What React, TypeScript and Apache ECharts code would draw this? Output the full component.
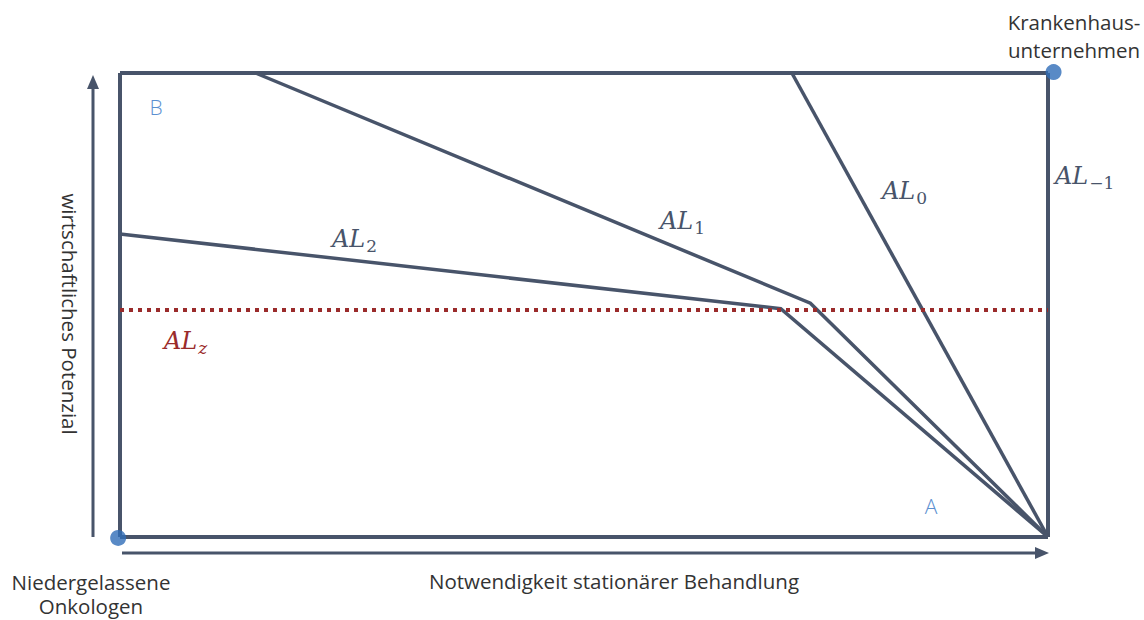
import React, { useEffect, useRef } from "react";
import * as echarts from "echarts";

// Coordinates in a 0..100 diagram space (x: Notwendigkeit, y: Potenzial)
const frameTop: [number, number][] = [[0, 100], [100, 100]];
const frameLeft: [number, number][] = [[0, 0], [0, 100]];
const frameBottom: [number, number][] = [[0, 0], [100, 0]];
const alMinus1: [number, number][] = [[100, 100], [100, 0]];
const al0: [number, number][] = [[72.4, 100], [100, 0]];
const al1: [number, number][] = [[14.6, 100], [74.4, 50.4], [100, 0]];
const al2: [number, number][] = [[0, 65.3], [71.2, 49.2], [100, 0]];
const alZ: [number, number][] = [[0, 48.9], [100, 48.9]];
const actors: [number, number][] = [[-0.2, -0.2], [100.6, 100.2]];

const LINE = "#48546a";
const DOT = "#2f6db8";
const RED = "#9a2b2b";
const LBL = "#5b8fd0";
const TXT = "#333";

export default function App() {
  const ref = useRef<HTMLDivElement>(null);
  useEffect(() => {
    const chart = echarts.init(ref.current!, null, { renderer: "svg" });
    const lineSeries = (data: [number, number][], width: number, color = LINE, type: any = "solid") => ({
      type: "line",
      data,
      symbol: "none",
      clip: false,
      lineStyle: { color, width, type, cap: "butt", join: "miter" },
      z: 2,
    });
    const math = (main: string, sub: string, color: string, subItalic = false) => ({
      text: `{a|${main}}{s|${sub}}`,
      rich: {
        a: { fontFamily: "DejaVu Serif", fontStyle: "italic", fontSize: 24, fill: color, color },
        s: { fontFamily: "DejaVu Serif", fontStyle: subItalic ? "italic" : "normal", fontSize: 17, fill: color, color, padding: [13, 0, 0, 1] },
      },
    });
    const sans = "Open Sans";
    const fs = 20.5;
    const plain = (x: number, y: number, text: string) => ({
      type: "text",
      x,
      y,
      style: { text, fontFamily: sans, fontSize: fs, lineHeight: 22, fill: TXT, align: "center", verticalAlign: "middle" },
    });
    chart.setOption({
      animation: false,
      grid: { left: 120, top: 73, width: 928, height: 464 },
      xAxis: { type: "value", min: 0, max: 100, show: false },
      yAxis: { type: "value", min: 0, max: 100, show: false },
      series: [
        lineSeries(frameTop, 4),
        lineSeries(frameLeft, 4),
        lineSeries(frameBottom, 4),
        lineSeries(alMinus1, 4),
        lineSeries(al0, 3.5),
        lineSeries(al1, 3.5),
        lineSeries(al2, 3.5),
        {
          ...lineSeries(alZ, 4, RED, [4, 5]),
          z: 3,
        },
        {
          type: "scatter",
          data: actors,
          symbolSize: 16,
          clip: false,
          itemStyle: { color: DOT },
          z: 5,
        },
      ],
      graphic: [
        // axis arrows
        { type: "line", shape: { x1: 93, y1: 537, x2: 93, y2: 88 }, style: { stroke: LINE, lineWidth: 3 } },
        { type: "polygon", shape: { points: [[93, 75], [87, 89], [99, 89]] }, style: { fill: LINE } },
        { type: "line", shape: { x1: 122, y1: 553, x2: 1036, y2: 553 }, style: { stroke: LINE, lineWidth: 3 } },
        { type: "polygon", shape: { points: [[1049, 553], [1035, 547], [1035, 559]] }, style: { fill: LINE } },
        // axis titles
        {
          type: "text",
          x: 70,
          y: 314,
          rotation: -Math.PI / 2,
          style: { text: "wirtschaftliches Potenzial", fontFamily: sans, fontSize: fs, fill: TXT, align: "center", verticalAlign: "middle" },
        },
        plain(614, 581, "Notwendigkeit stationärer Behandlung"),
        plain(91, 582, "Niedergelassene"),
        plain(91, 606, "Onkologen"),
        plain(1074, 22, "Krankenhaus-"),
        plain(1074, 50, "unternehmen"),
        // region labels
        { type: "text", x: 156, y: 107, style: { text: "B", fontFamily: sans, fontSize: 21, fontWeight: 300, fill: LBL, align: "center", verticalAlign: "middle" } },
        { type: "text", x: 931, y: 506, style: { text: "A", fontFamily: sans, fontSize: 21, fontWeight: 300, fill: LBL, align: "center", verticalAlign: "middle" } },
        // line labels
        { type: "text", x: 332, y: 224, style: math("AL", "2", LINE) },
        { type: "text", x: 660, y: 206, style: math("AL", "1", LINE) },
        { type: "text", x: 882, y: 176, style: math("AL", "0", LINE) },
        { type: "text", x: 1055, y: 161, style: math("AL", "−1", LINE) },
        { type: "text", x: 164, y: 326, style: math("AL", "z", RED, true) },
      ],
    });
    return () => chart.dispose();
  }, []);
  return <div ref={ref} style={{ position: "fixed", left: 0, top: 0, width: 1144, height: 620, background: "#fff" }} />;
}
